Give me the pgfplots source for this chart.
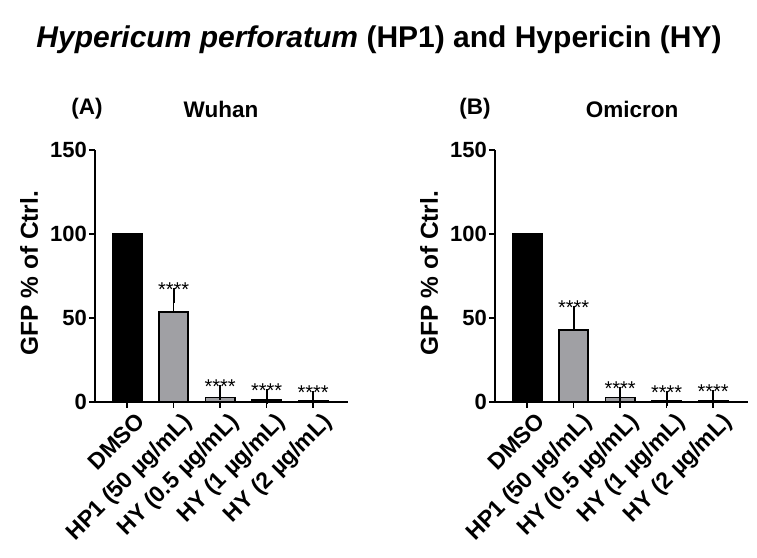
\documentclass[border=0pt]{standalone}
\usepackage{fontspec}
\setmainfont{Liberation Sans}
\usepackage{pgfplots}
\pgfplotsset{compat=1.18}
\definecolor{bargray}{RGB}{160,160,164}

\pgfplotsset{
  panel/.style={
    scale only axis,
    width=253pt, height=252pt,
    xmin=-0.69, xmax=4.75,
    ymin=0, ymax=150,
    ytick={0,50,100,150},
    xtick={0,1,2,3,4},
    xticklabels={DMSO, HP1 (50 µg/mL), HY (0.5 µg/mL), HY (1 µg/mL), HY (2 µg/mL)},
    axis x line*=bottom, axis y line*=left,
    axis line style={line width=1.8pt, -},
    tick style={line width=1.6pt, black},
    tick align=outside, major tick length=6pt,
    yticklabel style={font=\fontsize{22}{22}\selectfont\bfseries, inner sep=2pt},
    xticklabel style={font=\fontsize{23}{23}\selectfont\bfseries, rotate=45, anchor=north east,
      inner sep=1pt, xshift=4pt, yshift=-7pt},
    /pgf/number format/assume math mode=true,
    ylabel={GFP \% of Ctrl.},
    ylabel style={font=\fontsize{24.5}{24.5}\selectfont\bfseries,
      at={(axis description cs:-0.26,0.51)}, anchor=center},
    clip=false,
  },
  bars/.style={ybar, bar shift=0pt, bar width=0.63, draw=black, line width=1.8pt},
  errbars/.style={bars,
    error bars/y dir=plus, error bars/y explicit,
    error bars/error bar style={line width=1.8pt, black},
    error bars/error mark options={line width=1.8pt, black, mark size=7.5pt}},
  stars/.style={draw=none, mark=none, nodes near coords={****},
    every node near coord/.style={anchor=base, font=\fontsize{20}{20}\selectfont, inner sep=0pt, yshift=-1pt}},
}
\tikzset{paneltitle/.style={font=\fontsize{22.5}{22.5}\selectfont\bfseries}}

\begin{document}
\begin{tikzpicture}
\useasboundingbox (0pt,-557pt) rectangle (757pt,0pt);
\node[font=\fontsize{30}{30}\selectfont\bfseries] at (379pt,-40pt)
  {\textit{Hypericum perforatum} (HP1) and Hypericin (HY)};
\node[paneltitle] at (87pt,-109pt) {(A)};
\node[paneltitle] at (221pt,-109pt) {Wuhan};
\node[paneltitle] at (475pt,-109pt) {(B)};
\node[paneltitle] at (632pt,-109pt) {Omicron};

% (A) Wuhan
\begin{axis}[panel, at={(95pt,-401.7pt)}, anchor=south west]
\addplot[bars, fill=black] coordinates {(0,100)};
\addplot[errbars, fill=bargray] coordinates {
  (1,53.6) +- (0,9.9)
  (2,2.5) +- (0,3.0)
  (3,1.2) +- (0,1.8)
  (4,0.3) +- (0,1.7)
};
\addplot[stars] coordinates {(1,63.5) (2,5.5) (3,3.0) (4,2.0)};
\end{axis}

% (B) Omicron
\begin{axis}[panel, at={(495pt,-401.7pt)}, anchor=south west]
\addplot[bars, fill=black] coordinates {(0,100)};
\addplot[errbars, fill=bargray] coordinates {
  (1,42.7) +- (0,10.1)
  (2,2.5) +- (0,2.0)
  (3,0.5) +- (0,1.2)
  (4,0.5) +- (0,2.0)
};
\addplot[stars] coordinates {(1,52.8) (2,4.5) (3,1.7) (4,2.5)};
\end{axis}
\end{tikzpicture}
\end{document}
